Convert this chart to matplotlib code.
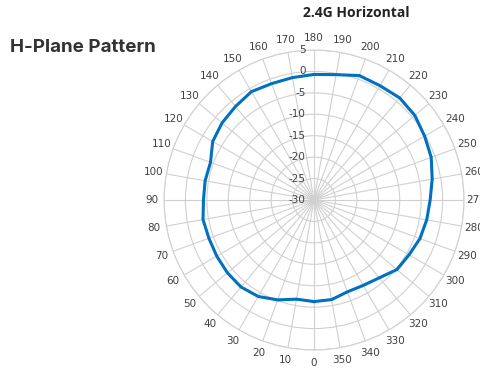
import numpy as np
import matplotlib
matplotlib.use("Agg")
import matplotlib.pyplot as plt

# measured pattern (dB) every 10 degrees
angles_deg = [0, 10, 20, 30, 40, 50, 60, 70, 80, 90, 100, 110, 120, 130, 140, 150, 160, 170,
              180, 190, 200, 210, 220, 230, 240, 250, 260, 270, 280, 290, 300, 310, 320, 330, 340, 350]
gain_db = [-6.3, -6.5, -5.2, -4.0, -3.5, -3.6, -3.8, -3.9, -3.7, -4.2, -4.2, -4.3, -2.7, -2.0, -1.5, -0.8, -1.1, -1.0,
           -0.7, -0.3, 0.9, 0.8, 1.1, 0.7, -0.2, -0.9, -2.0, -2.9, -3.3, -3.7, -4.4, -4.75, -6.3, -7.0, -7.2, -6.4]
r_ticks = [-30, -25, -20, -15, -10, -5, 0, 5]
theta_ticks = list(range(0, 360, 10))

grid_col = "#d0d0d0"
txt_col = "#404040"

fig = plt.figure(figsize=(4.8, 3.72), dpi=100)
ax = fig.add_axes([0.3417, 0.0591, 0.625, 0.8065], projection="polar")
ax.set_theta_zero_location("S")
ax.set_theta_direction(-1)
ax.set_ylim(-30, 5)

# close the loop
th = np.deg2rad(angles_deg + [angles_deg[0]])
rr = gain_db + [gain_db[0]]
ax.plot(th, rr, color="#0070c0", lw=2.2, zorder=3)

ax.set_thetagrids(theta_ticks, [str(t) for t in theta_ticks], fontsize=7.5, color=txt_col)
ax.set_rgrids(r_ticks, labels=[""] * len(r_ticks))
ax.tick_params(axis="x", pad=-1.5)
ax.grid(True, color=grid_col, lw=0.8)
ax.spines["polar"].set_color(grid_col)
ax.spines["polar"].set_linewidth(0.8)

for v in r_ticks:
    ax.annotate(str(v), xy=(np.pi, v), xytext=(-6, 0), textcoords="offset points",
                ha="right", va="center", fontsize=7.5, color=txt_col)

fig.text(0.742, 0.965, "2.4G Horizontal", ha="center", va="center",
         fontsize=10, fontweight="bold", family="Open Sans", color="#222222")
fig.text(0.02, 0.873, "H-Plane Pattern", ha="left", va="center",
         fontsize=13.5, fontweight="bold", family="Inter", color="#333333")

fig.savefig("out.png", dpi=100)
